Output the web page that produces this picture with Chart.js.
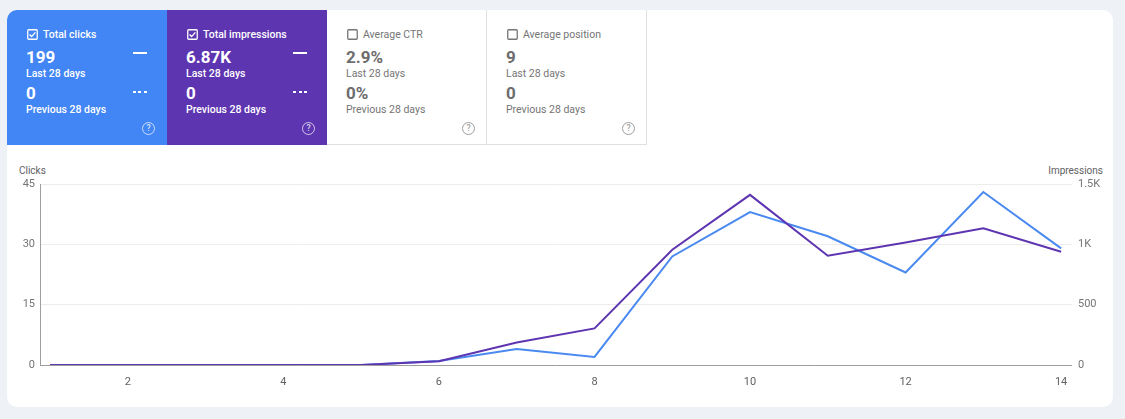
<!DOCTYPE html>
<html>
<head>
<meta charset="utf-8">
<script src="https://cdn.jsdelivr.net/npm/chart.js@4/dist/chart.umd.min.js"></script>
<style>
  body { margin: 0; background: #eef1f6; font-family: Roboto, "Noto Sans", sans-serif; }
  .card { position: absolute; left: 7px; top: 10px; width: 1106px; height: 397px; background: #fff; border-radius: 10px; overflow: hidden; }
  .tile { position: absolute; top: 0; height: 135px; width: 160px; box-sizing: border-box; }
  .tile .head { position: absolute; left: 20px; top: 18px; font-size: 10.5px; font-weight: 500; display: flex; align-items: center; }
  .tile .head svg { margin-right: 5px; }
  .tile .big { position: absolute; left: 19px; font-size: 17px; font-weight: 700; }
  .tile .sub { position: absolute; left: 19px; font-size: 10.5px; font-weight: 500; }
  .tile .dash { position: absolute; left: 126px; width: 14px; height: 2px; }
  .tile .help { position: absolute; left: 135px; top: 112px; width: 11px; height: 11px; border-radius: 50%; font-size: 8.5px; font-weight: 500; line-height: 11px; text-align: center; }
  .on { color: #fff; }
  .off { color: #757575; border-right: 1px solid #e0e0e0; border-bottom: 1px solid #e0e0e0; }
  .off .head { font-weight: 400; }
  .off .big { color: #6d6d6d; }
  .off .sub { font-weight: 400; }
  .axis-t { position: absolute; font-size: 10px; color: #616161; top: 155px; }
  #wrap { position: absolute; left: 0; top: 140px; width: 1106px; height: 255px; }
</style>
</head>
<body>
<div class="card">
  <div id="tiles"></div>
  <div class="axis-t" style="left:12px;">Clicks</div>
  <div class="axis-t" style="right:10px;">Impressions</div>
  <div id="wrap"><canvas id="lineChart"></canvas></div>
</div>
<script>
var days        = [1, 2, 3, 4, 5, 6, 7, 8, 9, 10, 11, 12, 13, 14];
var clicks      = [0, 0, 0, 0, 0, 1, 4, 2, 27, 38, 32, 23, 43, 29];
var impressions = [0, 0, 0, 0, 0, 31, 187, 303, 955, 1410, 906, 1015, 1133, 939];
var xTicks      = [2, 4, 6, 8, 10, 12, 14];

var tileLabels  = ['Total clicks', 'Total impressions', 'Average CTR', 'Average position'];
var tileNow     = ['199', '6.87K', '2.9%', '9'];
var tilePrev    = ['0', '0', '0%', '0'];
var tileColors  = ['#4285f4', '#5e35b1', null, null];

// metric tiles
var html = '';
for (var i = 0; i < tileLabels.length; i++) {
    var on = tileColors[i] !== null;
    var stroke = on ? '#fff' : '#757575';
    var box = '<svg width="11" height="11" viewBox="0 0 11 11"><rect x="0.75" y="0.75" width="9.5" height="9.5" rx="1" fill="none" stroke="' + stroke + '" stroke-width="1.3"/>' +
              (on ? '<path d="M2.6 5.6 L4.6 7.6 L8.4 3.4" fill="none" stroke="#fff" stroke-width="1.4"/>' : '') + '</svg>';
    html += '<div class="tile ' + (on ? 'on' : 'off') + '" style="left:' + (i * 160) + 'px;' + (on ? 'background:' + tileColors[i] + ';' : '') + '">' +
            '<div class="head">' + box + tileLabels[i] + '</div>' +
            '<div class="big" style="top:37px;">' + tileNow[i] + '</div>' +
            '<div class="sub" style="top:57px;">Last 28 days</div>' +
            '<div class="big" style="top:73px;">' + tilePrev[i] + '</div>' +
            '<div class="sub" style="top:93px;">Previous 28 days</div>' +
            (on ? '<div class="dash" style="top:42px;background:#fff;"></div>' +
                  '<div class="dash" style="top:81px;background:repeating-linear-gradient(90deg,#fff 0 3px,transparent 3px 5.5px);"></div>' : '') +
            '<div class="help" style="border:1px solid ' + (on ? 'rgba(255,255,255,0.7)' : '#9e9e9e') + ';color:' + (on ? 'rgba(255,255,255,0.8)' : '#9e9e9e') + ';">?</div>' +
            '</div>';
}
document.getElementById('tiles').innerHTML = html;

var lineChartCanvas = document.getElementById('lineChart').getContext('2d');
var lineChart = new Chart(lineChartCanvas, {
    type: 'line',
    data: {
        datasets: [
            {
                label: 'Impressions',
                data: days.map(function (d, i) { return { x: d, y: impressions[i] }; }),
                borderColor: '#5e35b1',
                borderWidth: 2,
                pointRadius: 0,
                tension: 0,
                yAxisID: 'y1'
            },
            {
                label: 'Clicks',
                data: days.map(function (d, i) { return { x: d, y: clicks[i] }; }),
                borderColor: '#4a8af0',
                borderWidth: 2,
                pointRadius: 0,
                tension: 0,
                yAxisID: 'y'
            }
        ]
    },
    options: {
        responsive: true,
        maintainAspectRatio: false,
        animation: false,
        layout: { padding: { top: 34, left: 0, right: 0, bottom: 0 } },
        plugins: { legend: { display: false }, tooltip: { enabled: false } },
        scales: {
            x: {
                type: 'linear',
                min: 0.87,
                max: 14.14,
                afterBuildTicks: function (axis) {
                    axis.ticks = xTicks.map(function (v) { return { value: v }; });
                },
                afterFit: function (axis) { axis.height = 40; },
                grid: { display: false },
                border: { display: false },
                ticks: { color: '#616161', font: { family: 'Roboto', size: 11 }, padding: 3, maxRotation: 0 }
            },
            y: {
                position: 'left',
                min: 0,
                max: 45,
                afterFit: function (axis) { axis.width = 33; },
                ticks: { stepSize: 15, color: '#757575', font: { family: 'Roboto', size: 11 }, padding: 5 },
                grid: {
                    drawTicks: false,
                    color: function (ctx) { return ctx.tick && ctx.tick.value === 0 ? '#9e9e9e' : '#ececec'; }
                },
                border: { display: true, color: '#9e9e9e' }
            },
            y1: {
                position: 'right',
                min: 0,
                max: 1500,
                afterFit: function (axis) { axis.width = 41; },
                ticks: {
                    stepSize: 500,
                    color: '#757575',
                    font: { family: 'Roboto', size: 11 },
                    padding: 6,
                    callback: function (v) { return v >= 1000 ? (v / 1000) + 'K' : v; }
                },
                grid: { display: false, drawTicks: false },
                border: { display: false }
            }
        }
    }
});
</script>
</body>
</html>
